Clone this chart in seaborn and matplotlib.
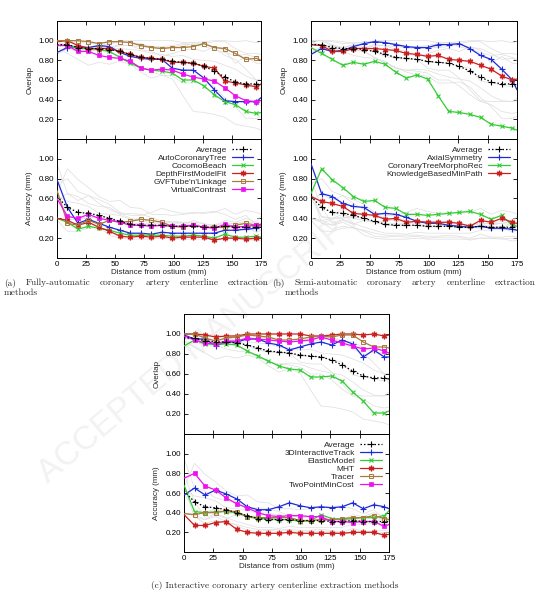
import numpy as np
import pandas as pd
import matplotlib
matplotlib.use("Agg")
import matplotlib.pyplot as plt
import seaborn as sns

# distance from ostium (mm) at which the curves were sampled
distance = [0, 9, 18, 27, 36, 45, 54, 63, 72, 81, 90, 99, 108, 117, 126, 135, 144, 153, 162, 171, 175]

avg_overlap = [0.96, 0.96, 0.93, 0.92, 0.92, 0.91, 0.89, 0.86, 0.83, 0.82, 0.81, 0.79, 0.78, 0.77, 0.74, 0.69, 0.63, 0.58, 0.56, 0.56, 0.55]
avg_accuracy = [0.62, 0.51, 0.46, 0.45, 0.43, 0.40, 0.37, 0.34, 0.33, 0.33, 0.33, 0.32, 0.32, 0.32, 0.31, 0.31, 0.32, 0.31, 0.31, 0.31, 0.31]

### (a) fully-automatic
act_ov = [0.88, 0.93, 0.94, 0.93, 0.95, 0.94, 0.88, 0.84, 0.82, 0.81, 0.81, 0.72, 0.70, 0.70, 0.62, 0.50, 0.39, 0.38, 0.38, 0.38, 0.42]
cocomo_ov = [0.95, 0.96, 0.92, 0.92, 0.91, 0.89, 0.83, 0.77, 0.72, 0.70, 0.69, 0.67, 0.60, 0.60, 0.54, 0.45, 0.38, 0.35, 0.28, 0.26, 0.27]
dfmf_ov = [0.99, 1.00, 0.95, 0.92, 0.92, 0.92, 0.89, 0.86, 0.83, 0.82, 0.81, 0.78, 0.78, 0.77, 0.74, 0.72, 0.59, 0.57, 0.55, 0.53, 0.56]
gvf_ov = [1.00, 1.00, 1.00, 0.99, 0.97, 0.99, 0.99, 0.98, 0.95, 0.93, 0.92, 0.93, 0.93, 0.94, 0.97, 0.93, 0.92, 0.87, 0.81, 0.82, 0.80]
vc_ov = [0.95, 0.95, 0.89, 0.89, 0.85, 0.83, 0.82, 0.79, 0.72, 0.70, 0.71, 0.70, 0.66, 0.63, 0.61, 0.59, 0.52, 0.44, 0.39, 0.38, 0.39]

act_acc = [0.79, 0.51, 0.35, 0.39, 0.35, 0.31, 0.28, 0.25, 0.25, 0.24, 0.26, 0.25, 0.25, 0.25, 0.25, 0.25, 0.28, 0.28, 0.29, 0.30, 0.34]
cocomo_acc = [0.40, 0.36, 0.29, 0.32, 0.30, 0.28, 0.25, 0.23, 0.23, 0.23, 0.23, 0.22, 0.22, 0.23, 0.22, 0.20, 0.24, 0.21, 0.21, 0.22, 0.21]
dfmf_acc = [0.40, 0.38, 0.33, 0.36, 0.31, 0.27, 0.22, 0.21, 0.22, 0.21, 0.22, 0.20, 0.21, 0.21, 0.21, 0.18, 0.20, 0.20, 0.19, 0.20, 0.20]
gvf_acc = [0.68, 0.35, 0.33, 0.38, 0.34, 0.38, 0.36, 0.37, 0.39, 0.38, 0.36, 0.32, 0.31, 0.33, 0.31, 0.31, 0.31, 0.33, 0.35, 0.33, 0.33]
vc_acc = [0.60, 0.42, 0.40, 0.44, 0.40, 0.38, 0.36, 0.33, 0.33, 0.32, 0.33, 0.32, 0.32, 0.33, 0.31, 0.30, 0.34, 0.31, 0.32, 0.33, 0.34]

### (b) semi-automatic
axial_ov = [0.86, 0.92, 0.89, 0.90, 0.94, 0.97, 0.99, 0.98, 0.96, 0.94, 0.93, 0.93, 0.96, 0.96, 0.97, 0.92, 0.85, 0.81, 0.71, 0.60, 0.50]
ctmr_ov = [0.93, 0.87, 0.81, 0.75, 0.78, 0.76, 0.79, 0.76, 0.68, 0.62, 0.65, 0.61, 0.44, 0.28, 0.27, 0.25, 0.22, 0.15, 0.13, 0.11, 0.09]
kbmp_ov = [0.96, 0.95, 0.89, 0.89, 0.92, 0.92, 0.92, 0.91, 0.90, 0.87, 0.86, 0.84, 0.85, 0.81, 0.80, 0.79, 0.75, 0.71, 0.64, 0.60, 0.61]

axial_acc = [0.95, 0.65, 0.62, 0.55, 0.52, 0.51, 0.44, 0.45, 0.44, 0.41, 0.37, 0.35, 0.35, 0.33, 0.32, 0.31, 0.32, 0.30, 0.30, 0.29, 0.28]
ctmr_acc = [0.65, 0.90, 0.79, 0.71, 0.62, 0.57, 0.58, 0.51, 0.50, 0.44, 0.44, 0.43, 0.44, 0.45, 0.46, 0.47, 0.44, 0.39, 0.43, 0.33, 0.32]
kbmp_acc = [0.62, 0.57, 0.55, 0.52, 0.45, 0.44, 0.43, 0.39, 0.40, 0.36, 0.37, 0.36, 0.36, 0.36, 0.35, 0.32, 0.38, 0.36, 0.40, 0.36, 0.35]

### (c) interactive
track_ov = [0.99, 0.95, 0.95, 0.88, 0.92, 0.92, 0.95, 0.95, 0.91, 0.89, 0.84, 0.87, 0.90, 0.92, 0.89, 0.94, 0.90, 0.77, 0.84, 0.77, 0.77]
elastic_ov = [0.88, 0.94, 0.90, 0.90, 0.90, 0.89, 0.83, 0.78, 0.73, 0.68, 0.65, 0.64, 0.57, 0.57, 0.58, 0.53, 0.42, 0.33, 0.21, 0.21, 0.23]
mht_ov = [1.00, 1.00, 0.99, 0.97, 0.98, 0.98, 1.00, 1.00, 1.00, 1.00, 1.00, 1.00, 0.98, 0.98, 0.99, 1.00, 1.00, 0.99, 1.00, 0.98, 0.99]
tracer_ov = [1.00, 1.00, 0.96, 0.93, 0.96, 0.97, 0.99, 0.98, 0.97, 0.94, 0.94, 0.95, 0.97, 0.98, 0.97, 0.99, 0.99, 0.92, 0.87, 0.87, 0.86]
tpmc_ov = [0.98, 0.94, 0.91, 0.90, 0.93, 0.93, 0.96, 0.95, 0.94, 0.93, 0.92, 0.93, 0.94, 0.97, 0.94, 0.91, 0.88, 0.85, 0.86, 0.83, 0.81]

track_acc = [0.58, 0.65, 0.58, 0.63, 0.59, 0.54, 0.46, 0.43, 0.43, 0.46, 0.50, 0.47, 0.45, 0.46, 0.45, 0.46, 0.50, 0.44, 0.48, 0.46, 0.44]
elastic_acc = [0.68, 0.41, 0.40, 0.41, 0.41, 0.40, 0.36, 0.34, 0.34, 0.33, 0.33, 0.31, 0.32, 0.38, 0.34, 0.33, 0.34, 0.35, 0.35, 0.37, 0.42]
mht_acc = [0.38, 0.27, 0.27, 0.30, 0.31, 0.23, 0.20, 0.19, 0.19, 0.19, 0.20, 0.19, 0.19, 0.19, 0.19, 0.19, 0.20, 0.20, 0.20, 0.17, 0.18]
tracer_acc = [0.39, 0.38, 0.40, 0.40, 0.42, 0.41, 0.36, 0.35, 0.35, 0.35, 0.35, 0.32, 0.32, 0.33, 0.33, 0.34, 0.35, 0.35, 0.37, 0.34, 0.33]
tpmc_acc = [0.75, 0.80, 0.67, 0.63, 0.55, 0.49, 0.45, 0.40, 0.37, 0.36, 0.37, 0.37, 0.36, 0.36, 0.31, 0.31, 0.30, 0.31, 0.31, 0.26, 0.28]

groups = [
    [("AutoCoronaryTree", act_ov, act_acc), ("CocomoBeach", cocomo_ov, cocomo_acc),
     ("DepthFirstModelFit", dfmf_ov, dfmf_acc), ("GVFTube'n'Linkage", gvf_ov, gvf_acc),
     ("VirtualContrast", vc_ov, vc_acc)],
    [("AxialSymmetry", axial_ov, axial_acc), ("CoronaryTreeMorphoRec", ctmr_ov, ctmr_acc),
     ("KnowledgeBasedMinPath", kbmp_ov, kbmp_acc)],
    [("3DInteractiveTrack", track_ov, track_acc), ("ElasticModel", elastic_ov, elastic_acc),
     ("MHT", mht_ov, mht_acc), ("Tracer", tracer_ov, tracer_acc),
     ("TwoPointMinCost", tpmc_ov, tpmc_acc)],
]

# gnuplot-ish line styles, in legend order
colors = ["#1f2bd8", "#33cc33", "#cc2020", "#a87a3c", "#ee10ee"]
styles = [
    dict(marker="+", markersize=4.5, markeredgewidth=0.8),
    dict(marker="x", markersize=3.5, markeredgewidth=0.8),
    dict(marker=(6, 2, 0), markersize=4, markeredgewidth=1.0),
    dict(marker="s", markersize=3.4, markeredgewidth=0.7, markerfacecolor="none"),
    dict(marker="s", markersize=3.2, markeredgewidth=0.5),
]

W, H = 539, 600
# pixel boxes: left, right, top, mid, bottom
boxes = [(57, 261, 21, 139, 258), (311, 517, 21, 139, 258), (184, 389, 314, 434, 552)]

sns.set_theme(style="ticks")
plt.rcParams["font.family"] = ["Liberation Sans", "DejaVu Sans"]
plt.rcParams["axes.facecolor"] = "none"
plt.rcParams["xtick.direction"] = "in"
plt.rcParams["ytick.direction"] = "in"

fig = plt.figure(figsize=(W / 100, H / 100), dpi=100)
fig.patch.set_facecolor("white")

# faint watermark, behind everything
fig.text(200 / W, 1 - 345 / H, "ACCEPTED MANUSCRIPT", rotation=40, fontsize=24,
         color="#f2f2f2", ha="center", va="center", zorder=-5)

mark_idx = list(range(1, len(distance) - 1))
fs = 5.8


def draw(ax, y, color, lw, z, **props):
    sns.lineplot(x=distance, y=y, ax=ax, color=color, linewidth=lw)
    h = ax.lines[-1]
    h.set_linestyle(props.pop("linestyle", "-"))
    h.set_zorder(z)
    if props:
        h.set(markevery=mark_idx, markeredgecolor=color,
              markerfacecolor=props.pop("markerfacecolor", color), **props)
    return h


for gi, (group, (l, r, t, m, b)) in enumerate(zip(groups, boxes)):
    ax_ov = fig.add_axes([l / W, 1 - m / H, (r - l) / W, (m - t) / H])
    ax_acc = fig.add_axes([l / W, 1 - b / H, (r - l) / W, (b - m) / H])
    others = [s for j, g in enumerate(groups) if j != gi for s in g]

    for k, ax in enumerate([ax_ov, ax_acc]):
        # the other methods in light grey
        for name, ov, acc in others:
            draw(ax, ov if k == 0 else acc, "#e0e0e0", 0.55, 1)
        handles = []
        for (name, ov, acc), c, st in zip(group, colors, styles):
            handles.append(draw(ax, ov if k == 0 else acc, c, 0.9, 3, **st))
        h_avg = draw(ax, avg_overlap if k == 0 else avg_accuracy, "black", 0.9, 4,
                     linestyle=(0, (1.2, 1.6)), marker="+", markersize=4.5,
                     markeredgewidth=0.8)

        ax.set_xlim(0, 175)
        ax.set_ylim(0, 1.2)
        ax.set_xticks(range(0, 176, 25))
        ax.set_yticks([0.2, 0.4, 0.6, 0.8, 1.0])
        ax.set_yticklabels(["%.2f" % v for v in [0.2, 0.4, 0.6, 0.8, 1.0]], fontsize=fs)
        ax.tick_params(which="both", length=3, width=0.6, top=True, right=True,
                       pad=2, labelsize=fs, colors="black")
        for sp in ax.spines.values():
            sp.set_linewidth(0.7)
            sp.set_color("black")
        ax.set_xlabel("")
        if k == 0:
            ax.set_xticklabels([])
            ax.set_ylabel("Overlap", fontsize=fs, labelpad=4)
        else:
            ax.set_ylabel("Accuracy (mm)", fontsize=fs, labelpad=4)
            ax.set_xlabel("Distance from ostium (mm)", fontsize=fs, labelpad=1)
            ax.legend([h_avg] + handles, ["Average"] + [g[0] for g in group],
                      loc="upper right", frameon=False, markerfirst=False,
                      fontsize=6.0, handlelength=2.6, handletextpad=0.6,
                      labelspacing=0.02, borderaxespad=0.7, borderpad=0.2)


def justify(words, x0, x1, y, size=6.7):
    texts = [fig.text(0, 1 - y / H, w, family="cmr10", fontsize=size, va="center")
             for w in words]
    fig.canvas.draw()
    rend = fig.canvas.get_renderer()
    widths = [tt.get_window_extent(rend).width for tt in texts]
    gap = (x1 - x0 - sum(widths)) / max(len(words) - 1, 1)
    x = x0
    for tt, w in zip(texts, widths):
        tt.set_x(x / W)
        x += w + gap


justify("(a) Fully-automatic coronary artery centerline extraction".split(), 4, 269, 283)
fig.text(4 / W, 1 - 293 / H, "methods", family="cmr10", fontsize=6.7, va="center")
justify("(b) Semi-automatic coronary artery centerline extraction".split(), 272, 536, 283)
fig.text(285 / W, 1 - 293 / H, "methods", family="cmr10", fontsize=6.7, va="center")
fig.text(275 / W, 1 - 586 / H, "(c) Interactive coronary artery centerline extraction methods",
         family="cmr10", fontsize=6.7, va="center", ha="center")

fig.savefig("out.png", dpi=100)
